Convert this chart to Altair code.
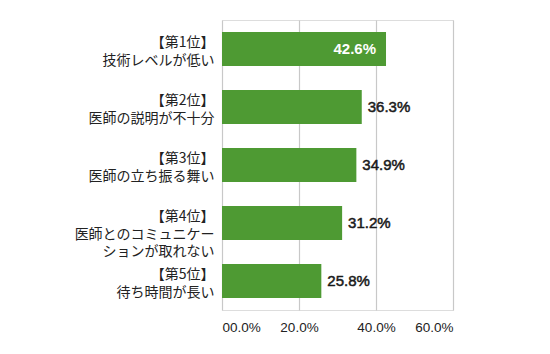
import altair as alt
import pandas as pd

ranks = ["【第1位】", "【第2位】", "【第3位】", "【第4位】", "【第5位】"]
reasons = ["技術レベルが低い", "医師の説明が不十分", "医師の立ち振る舞い",
           "医師とのコミュニケー|ションが取れない", "待ち時間が長い"]
values = [42.6, 36.3, 34.9, 31.2, 25.8]
x_ticks = [0, 20, 40, 60]

labels = [r + "|" + s for r, s in zip(ranks, reasons)]
df = pd.DataFrame({"label": labels, "value": values,
                   "text": [f"{v:.1f}%" for v in values],
                   "inside": [i == 0 for i in range(len(values))]})

y_enc = alt.Y("label:N", sort=labels, title=None,
              scale=alt.Scale(paddingInner=0.41, paddingOuter=0.205),
              axis=alt.Axis(domain=False, ticks=False, labelPadding=8,
                            labelFont="Noto Sans CJK JP", labelFontSize=14,
                            labelColor="#222222", labelLineHeight=17.5,
                            labelOffset=-6,
                            labelExpr="split(datum.value, '|')", labelLimit=0))
x_enc = alt.X("value:Q", title=None,
              scale=alt.Scale(domain=[0, 60], nice=False),
              axis=alt.Axis(values=x_ticks, domain=False, ticks=False,
                            grid=True, gridColor="#c8c8c8", gridWidth=1.2,
                            labelFont="Liberation Sans", labelFontSize=13.5,
                            labelColor="#222222", labelPadding=10,
                            labelExpr="datum.value == 0 ? '00.0%' : format(datum.value, '.1f') + '%'"))

base = alt.Chart(df).encode(y=y_enc, x=x_enc)
bars = base.mark_bar(color="#4e9a33")
outside = base.transform_filter("!datum.inside").mark_text(
    align="left", dx=6, font="Liberation Sans", fontSize=15,
    color="#1a1a1a", stroke="#1a1a1a", strokeWidth=0.5
).encode(text="text:N")
inside = base.transform_filter("datum.inside").mark_text(
    align="right", dx=-10, font="Liberation Sans", fontSize=15, fontWeight="bold",
    color="white"
).encode(text="text:N")

chart = alt.layer(bars, outside, inside).properties(
    width=231, height=290,
    padding={"left": 222, "top": 20, "right": 97, "bottom": 44},
    autosize=alt.AutoSizeParams(type="none"),
).configure_view(stroke=None).configure(background="white")

chart.save("out.html", embed_options={"renderer": "svg", "actions": False})
